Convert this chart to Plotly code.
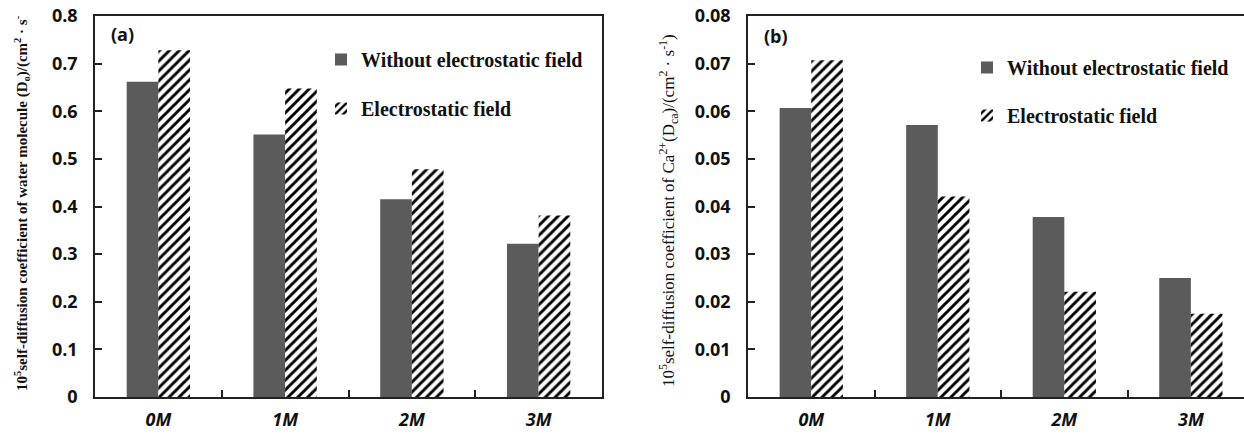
import plotly.graph_objects as go

W, H = 1244, 435

categories = ["0M", "1M", "2M", "3M"]

# (a) water molecule self-diffusion coefficient
water_no_field = [0.662, 0.551, 0.415, 0.322]
water_field = [0.728, 0.648, 0.478, 0.381]

# (b) Ca2+ self-diffusion coefficient
ca_no_field = [0.0607, 0.0571, 0.0378, 0.0250]
ca_field = [0.0707, 0.0421, 0.0221, 0.0175]

y_ticks_a = [0, 0.1, 0.2, 0.3, 0.4, 0.5, 0.6, 0.7, 0.8]
y_tick_text_a = ["0", "0.1", "0.2", "0.3", "0.4", "0.5", "0.6", "0.7", "0.8"]
y_ticks_b = [0, 0.01, 0.02, 0.03, 0.04, 0.05, 0.06, 0.07, 0.08]
y_tick_text_b = ["0", "0.01", "0.02", "0.03", "0.04", "0.05", "0.06", "0.07", "0.08"]

GRAY = "#5b5b5b"
AXIS = "#222222"
SERIF = "Liberation Serif"
SANS = "Open Sans"

def px_x(x):
    return x / W

def px_y(y):
    return 1 - y / H

hatch = dict(shape="/", fgcolor="black", bgcolor="white", size=7, solidity=0.42, fillmode="replace")

fig = go.Figure()

fig.add_trace(go.Bar(x=categories, y=water_no_field, name="Without electrostatic field",
                     marker=dict(color=GRAY, line=dict(width=0)),
                     xaxis="x", yaxis="y", legend="legend", legendgroup="a1"))
fig.add_trace(go.Bar(x=categories, y=water_field, name="Electrostatic field",
                     marker=dict(color="white", pattern=hatch, line=dict(width=0)),
                     xaxis="x", yaxis="y", legend="legend", legendgroup="a2"))
fig.add_trace(go.Bar(x=categories, y=ca_no_field, name="Without electrostatic field",
                     marker=dict(color=GRAY, line=dict(width=0)),
                     xaxis="x2", yaxis="y2", legend="legend2", legendgroup="b1"))
fig.add_trace(go.Bar(x=categories, y=ca_field, name="Electrostatic field",
                     marker=dict(color="white", pattern=hatch, line=dict(width=0)),
                     xaxis="x2", yaxis="y2", legend="legend2", legendgroup="b2"))

tick_font = dict(family=SANS, size=18, color="#111111", weight="bold")
cat_font = dict(family=SANS, size=18, color="#111111", weight="bold", style="italic")

y_dom = [px_y(397), px_y(16)]

common_x = dict(type="category", showline=True, linecolor=AXIS, linewidth=1.5,
                ticks="inside", ticklen=7, tickwidth=1.5, tickcolor=AXIS,
                tickson="boundaries", tickfont=cat_font, ticklabelstandoff=6,
                showgrid=False, zeroline=False, automargin=False)
common_y = dict(showline=True, linecolor=AXIS, linewidth=1.5,
                ticks="inside", ticklen=7, tickwidth=1.5, tickcolor=AXIS,
                tickfont=tick_font, ticklabelstandoff=12,
                showgrid=False, zeroline=False, domain=y_dom, automargin=False)

legend_font = dict(family=SERIF, size=20, color="#111111", weight="bold")

fig.update_layout(
    width=W, height=H,
    margin=dict(l=0, r=0, t=0, b=0, autoexpand=False),
    paper_bgcolor="white", plot_bgcolor="white",
    barmode="group", bargap=0.5, bargroupgap=0,
    xaxis=dict(common_x, domain=[px_x(95), px_x(602)], anchor="y",
               range=[-0.5, 3.5], mirror=True),
    yaxis=dict(common_y, anchor="x", range=[0, 0.8], tickvals=y_ticks_a,
               ticktext=y_tick_text_a, mirror=True),
    xaxis2=dict(common_x, domain=[px_x(748), 1], anchor="y2",
                range=[-0.5, 3.42], mirror=True),
    yaxis2=dict(common_y, anchor="x2", range=[0, 0.08], tickvals=y_ticks_b,
                ticktext=y_tick_text_b),
    legend=dict(x=px_x(321), y=px_y(40), xanchor="left", yanchor="top",
                bgcolor="rgba(0,0,0,0)", traceorder="grouped", tracegroupgap=20,
                font=legend_font),
    legend2=dict(x=px_x(967), y=px_y(48), xanchor="left", yanchor="top",
                 bgcolor="rgba(0,0,0,0)", traceorder="grouped", tracegroupgap=19,
                 font=legend_font),
    showlegend=True,
)

annotations = [
    dict(text="(a)", x=px_x(109), y=px_y(34), xref="paper", yref="paper",
         xanchor="left", yanchor="middle", showarrow=False,
         font=dict(family=SANS, size=18, color="#111111", weight="bold")),
    dict(text="(b)", x=px_x(762), y=px_y(36), xref="paper", yref="paper",
         xanchor="left", yanchor="middle", showarrow=False,
         font=dict(family=SANS, size=18, color="#111111", weight="bold")),
    dict(text="10<sup>5</sup>self-diffusion coefficient of water molecule (D<sub>o</sub>)/(cm<sup>2</sup> · s<sup>-</sup>",
         x=px_x(22), y=px_y(203), xref="paper", yref="paper", textangle=-90,
         xanchor="center", yanchor="middle", showarrow=False,
         font=dict(family=SERIF, size=15, color="#111111", weight="bold")),
    dict(text="10<sup>5</sup>self-diffusion coefficient of Ca<sup>2+</sup>(D<sub>ca</sub>)/(cm<sup>2</sup> · s<sup>-1</sup>)",
         x=px_x(668), y=px_y(211), xref="paper", yref="paper", textangle=-90,
         xanchor="center", yanchor="middle", showarrow=False,
         font=dict(family=SERIF, size=17, color="#111111")),
]
fig.update_layout(annotations=annotations)

fig.write_html("out.html")
